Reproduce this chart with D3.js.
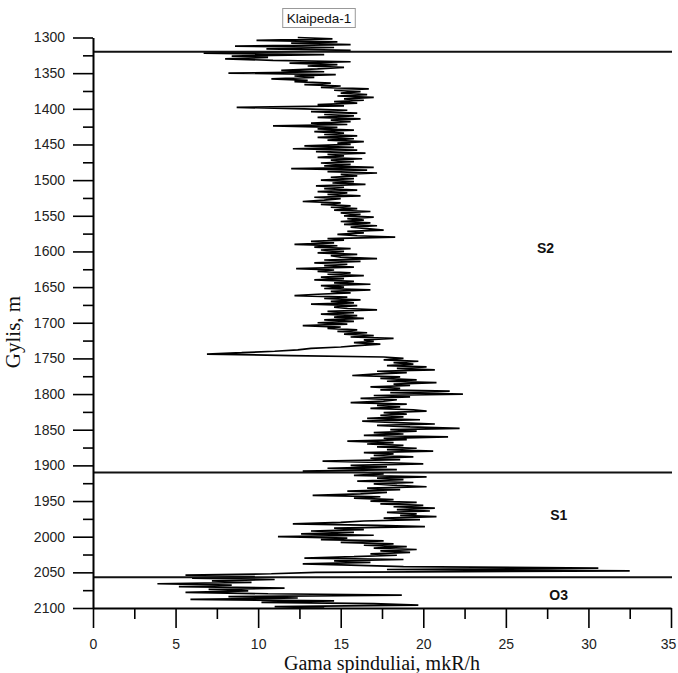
<!DOCTYPE html>
<html>
<head>
<meta charset="utf-8">
<script src="https://cdn.jsdelivr.net/npm/d3@7"></script>
<style>
  body { margin: 0; background: #fff; }
  svg { display: block; }
</style>
</head>
<body>
<div id="chart"></div>
<script>
// gamma log values, one every 2 m from 1300 m down to 2100 m
var gammaValues = [
  12.4, 14.5, 9.9, 14.8, 12.0,   // 1300
  15.6, 8.6, 14.6, 10.5, 15.6,   // 1310
  12.0, 6.7, 14.0, 8.4, 10.6,    // 1320
  8.0, 10.9, 15.6, 11.9, 14.8,   // 1330
  13.0, 15.2, 13.6, 11.4, 14.0,  // 1340
  8.2, 14.7, 12.2, 13.4, 10.8,   // 1350
  13.0, 12.2, 14.4, 12.8, 15.0,  // 1360
  13.8, 16.7, 14.6, 16.2, 15.0,  // 1370
  16.6, 14.8, 17.0, 15.2, 16.4,  // 1380
  14.6, 16.0, 13.6, 15.2, 8.7,   // 1390
  12.8, 15.4, 13.2, 16.0, 14.0,  // 1400
  15.8, 13.6, 16.2, 14.4, 15.6,  // 1410
  13.2, 15.4, 10.9, 14.8, 13.6,  // 1420
  15.8, 13.4, 15.2, 14.0, 16.0,  // 1430
  13.6, 15.8, 14.2, 16.4, 14.8,  // 1440
  15.6, 12.8, 15.8, 12.1, 16.0,  // 1450
  13.5, 16.5, 14.2, 15.2, 13.6,  // 1460
  16.3, 14.4, 15.8, 13.8, 15.6,  // 1470
  14.0, 17.0, 12.0, 16.6, 14.2,  // 1480
  17.2, 15.0, 16.0, 14.4, 15.8,  // 1490
  13.8, 15.8, 14.5, 16.5, 13.5,  // 1500
  15.2, 14.0, 16.0, 13.6, 15.4,  // 1510
  14.2, 16.2, 13.4, 15.0, 14.0,  // 1520
  12.7, 15.0, 13.8, 15.6, 14.4,  // 1530
  16.0, 14.6, 16.8, 15.0, 16.2,  // 1540
  15.2, 17.0, 15.4, 16.4, 15.0,  // 1550
  16.8, 15.2, 17.2, 15.6, 16.6,  // 1560
  17.6, 15.4, 16.4, 14.8, 16.0,  // 1570
  18.3, 14.2, 15.2, 13.2, 14.6,  // 1580
  12.2, 14.8, 13.4, 15.6, 13.8,  // 1590
  15.2, 13.6, 16.0, 14.4, 15.0,  // 1600
  17.2, 14.0, 16.2, 13.4, 15.4,  // 1610
  14.0, 15.8, 12.3, 14.6, 13.6,  // 1620
  15.6, 14.2, 16.4, 13.8, 15.2,  // 1630
  13.4, 15.8, 14.6, 16.8, 13.8,  // 1640
  15.2, 14.0, 16.8, 14.4, 15.6,  // 1650
  13.6, 12.2, 15.4, 14.0, 16.2,  // 1660
  14.4, 15.8, 13.2, 16.0, 14.6,  // 1670
  15.4, 17.2, 14.2, 15.8, 13.8,  // 1680
  16.0, 14.6, 16.4, 14.0, 15.8,  // 1690
  13.6, 15.4, 12.7, 15.0, 14.2,  // 1700
  16.0, 14.8, 16.6, 15.2, 17.0,  // 1710
  15.6, 18.2, 16.4, 17.0, 15.8,  // 1720
  17.4, 16.0, 15.0, 13.2, 12.4,  // 1730
  11.0, 9.0, 6.9, 12.0, 17.6,    // 1740
  18.8, 17.6, 19.7, 18.2, 19.4,  // 1750
  17.8, 20.2, 18.4, 20.7, 17.2,  // 1760
  19.0, 17.0, 15.7, 18.6, 17.4,  // 1770
  19.6, 17.8, 20.8, 18.2, 19.2,  // 1780
  16.8, 18.6, 17.4, 21.6, 18.0,  // 1790
  22.4, 17.0, 19.2, 16.2, 18.4,  // 1800
  17.6, 15.6, 19.0, 17.2, 18.6,  // 1810
  16.8, 19.4, 20.2, 17.6, 19.0,  // 1820
  17.4, 18.8, 16.6, 19.8, 16.3,  // 1830
  18.4, 20.7, 17.2, 19.2, 22.2,  // 1840
  18.0, 19.6, 17.0, 18.8, 16.4,  // 1850
  21.5, 17.6, 19.0, 15.4, 18.2,  // 1860
  16.6, 18.8, 17.2, 19.6, 17.8,  // 1870
  20.6, 16.4, 18.2, 17.0, 19.4,  // 1880
  16.8, 18.6, 13.9, 17.4, 20.0,  // 1890
  15.6, 17.8, 14.2, 18.4, 12.7,  // 1900
  16.4, 17.6, 15.8, 20.2, 17.2,  // 1910
  18.8, 16.0, 19.4, 17.0, 18.4,  // 1920
  20.2, 16.6, 18.6, 15.4, 17.8,  // 1930
  16.2, 13.3, 17.4, 15.8, 18.2,  // 1940
  16.8, 19.6, 17.4, 20.0, 18.2,  // 1950
  20.7, 18.4, 20.4, 17.8, 19.6,  // 1960
  18.6, 20.8, 17.6, 19.8, 16.4,  // 1970
  15.0, 12.1, 17.2, 20.1, 14.6,  // 1980
  16.4, 13.2, 15.8, 12.6, 17.0,  // 1990
  11.2, 15.4, 13.8, 17.6, 15.0,  // 2000
  18.2, 16.4, 19.0, 17.0, 19.6,  // 2010
  17.4, 19.2, 16.8, 18.4, 15.8,  // 2020
  12.8, 18.8, 14.6, 16.8, 12.7,  // 2030
  15.6, 18.8, 30.6, 17.8, 32.5,  // 2040
  13.5, 10.8, 5.6, 9.8, 6.0,     // 2050
  11.0, 7.2, 9.6, 3.9, 8.4,      // 2060
  5.2, 11.6, 7.0, 9.4, 5.6,      // 2070
  10.6, 18.7, 8.2, 12.4, 5.9,    // 2080
  14.6, 10.2, 17.0, 19.7, 11.0,  // 2090
  14.0                           // 2100
];
var depthTop = 1300, depthStep = 2;

// stratigraphic boundaries and unit names
var boundaryDepths = [1320, 1910, 2057];
var unitNames = ["S2", "S1", "O3"];
var unitDepths = [1595, 1970, 2082];
var unitValues = [27.4, 28.2, 28.2];

var xTicks = [0, 5, 10, 15, 20, 25, 30, 35];
var yTicks = [1300, 1350, 1400, 1450, 1500, 1550, 1600, 1650, 1700, 1750, 1800, 1850, 1900, 1950, 2000, 2050, 2100];

var titleText = "Klaipeda-1";
var xTitle = "Gama spinduliai, mkR/h";
var yTitle = "Gylis, m";

// dimensions
var W = 678, H = 673;
var margin = { top: 37.5, right: 7, bottom: 65, left: 93 },
    width = W - margin.left - margin.right,
    height = H - margin.top - margin.bottom;

var svg = d3.select("#chart")
    .append("svg")
    .attr("width", W)
    .attr("height", H);

var g = svg.append("g")
    .attr("transform", "translate(" + margin.left + "," + margin.top + ")");

var x = d3.scaleLinear().domain([0, 35]).range([0, width]);
var y = d3.scaleLinear().domain([1300, 2100]).range([0, height]);

var logData = gammaValues.map(function (v, i) {
    return { depth: depthTop + i * depthStep, value: v };
});

// minor ticks first (no labels)
var xMinor = d3.range(0, 35.01, 2.5).filter(function (d) { return d % 5 !== 0; });
var yMinor = d3.range(1300, 2100.1, 25).filter(function (d) { return d % 50 !== 0; });

g.append("g")
    .attr("transform", "translate(0," + height + ")")
    .call(d3.axisBottom(x).tickValues(xMinor).tickSize(11).tickFormat(""))
    .call(function (a) { a.select(".domain").remove(); a.selectAll("line").attr("stroke-width", 1.6); });

g.append("g")
    .call(d3.axisLeft(y).tickValues(yMinor).tickSize(10).tickFormat(""))
    .call(function (a) { a.select(".domain").remove(); a.selectAll("line").attr("stroke-width", 1.6); });

// the log curve
var line = d3.line()
    .x(function (d) { return x(d.value); })
    .y(function (d) { return y(d.depth); });

g.append("path")
    .datum(logData)
    .attr("fill", "none")
    .attr("stroke", "#000")
    .attr("stroke-width", 1.7)
    .attr("stroke-linejoin", "bevel")
    .attr("d", line);

// boundaries
g.selectAll(".boundary")
    .data(boundaryDepths)
    .enter().append("line")
    .attr("class", "boundary")
    .attr("x1", 0)
    .attr("x2", width + 1)
    .attr("y1", function (d) { return y(d); })
    .attr("y2", function (d) { return y(d); })
    .attr("stroke", "#111")
    .attr("stroke-width", 2);

// main axes
var xAxis = g.append("g")
    .attr("transform", "translate(0," + height + ")")
    .call(d3.axisBottom(x).tickValues(xTicks).tickSize(20).tickPadding(11).tickSizeOuter(0).tickFormat(d3.format("d")));

var yAxis = g.append("g")
    .call(d3.axisLeft(y).tickValues(yTicks).tickSize(20).tickPadding(8).tickSizeOuter(0).tickFormat(d3.format("d")));

[xAxis, yAxis].forEach(function (a) {
    a.select(".domain").attr("stroke-width", 2);
    a.selectAll("line").attr("stroke-width", 1.6);
    a.selectAll("text")
        .attr("font-family", "Liberation Sans, Arial, sans-serif")
        .attr("font-size", 14)
        .attr("fill", "#222");
});
// keep the last x label inside the picture
xAxis.selectAll(".tick text").filter(function (d) { return d === 35; }).attr("dx", -3);

// unit labels
g.selectAll(".unit")
    .data(unitNames)
    .enter().append("text")
    .attr("class", "unit")
    .attr("x", function (d, i) { return x(unitValues[i]); })
    .attr("y", function (d, i) { return y(unitDepths[i]); })
    .attr("dy", "0.35em")
    .attr("text-anchor", "middle")
    .attr("font-family", "Liberation Sans, Arial, sans-serif")
    .attr("font-weight", "bold")
    .attr("font-size", 14)
    .attr("fill", "#111")
    .text(function (d) { return d; });

// title in a little box
var titleG = svg.append("g");
var titleBox = titleG.append("rect");
var title = titleG.append("text")
    .attr("x", 319)
    .attr("y", 18)
    .attr("dy", "0.35em")
    .attr("text-anchor", "middle")
    .attr("font-family", "Liberation Sans, Arial, sans-serif")
    .attr("font-size", 13.5)
    .attr("fill", "#111")
    .text(titleText);
var bb = title.node().getBBox();
titleBox
    .attr("x", bb.x - 4)
    .attr("y", 8.5)
    .attr("width", bb.width + 8)
    .attr("height", 19)
    .attr("fill", "#fff")
    .attr("stroke", "#999")
    .attr("stroke-width", 1);

// axis titles
svg.append("text")
    .attr("x", 382)
    .attr("y", 670)
    .attr("text-anchor", "middle")
    .attr("font-family", "Liberation Serif, Times New Roman, serif")
    .attr("font-size", 20)
    .attr("fill", "#111")
    .text(xTitle);

svg.append("text")
    .attr("transform", "translate(20,332) rotate(-90)")
    .attr("text-anchor", "middle")
    .attr("font-family", "Liberation Serif, Times New Roman, serif")
    .attr("font-size", 21)
    .attr("fill", "#111")
    .text(yTitle);
</script>
</body>
</html>
